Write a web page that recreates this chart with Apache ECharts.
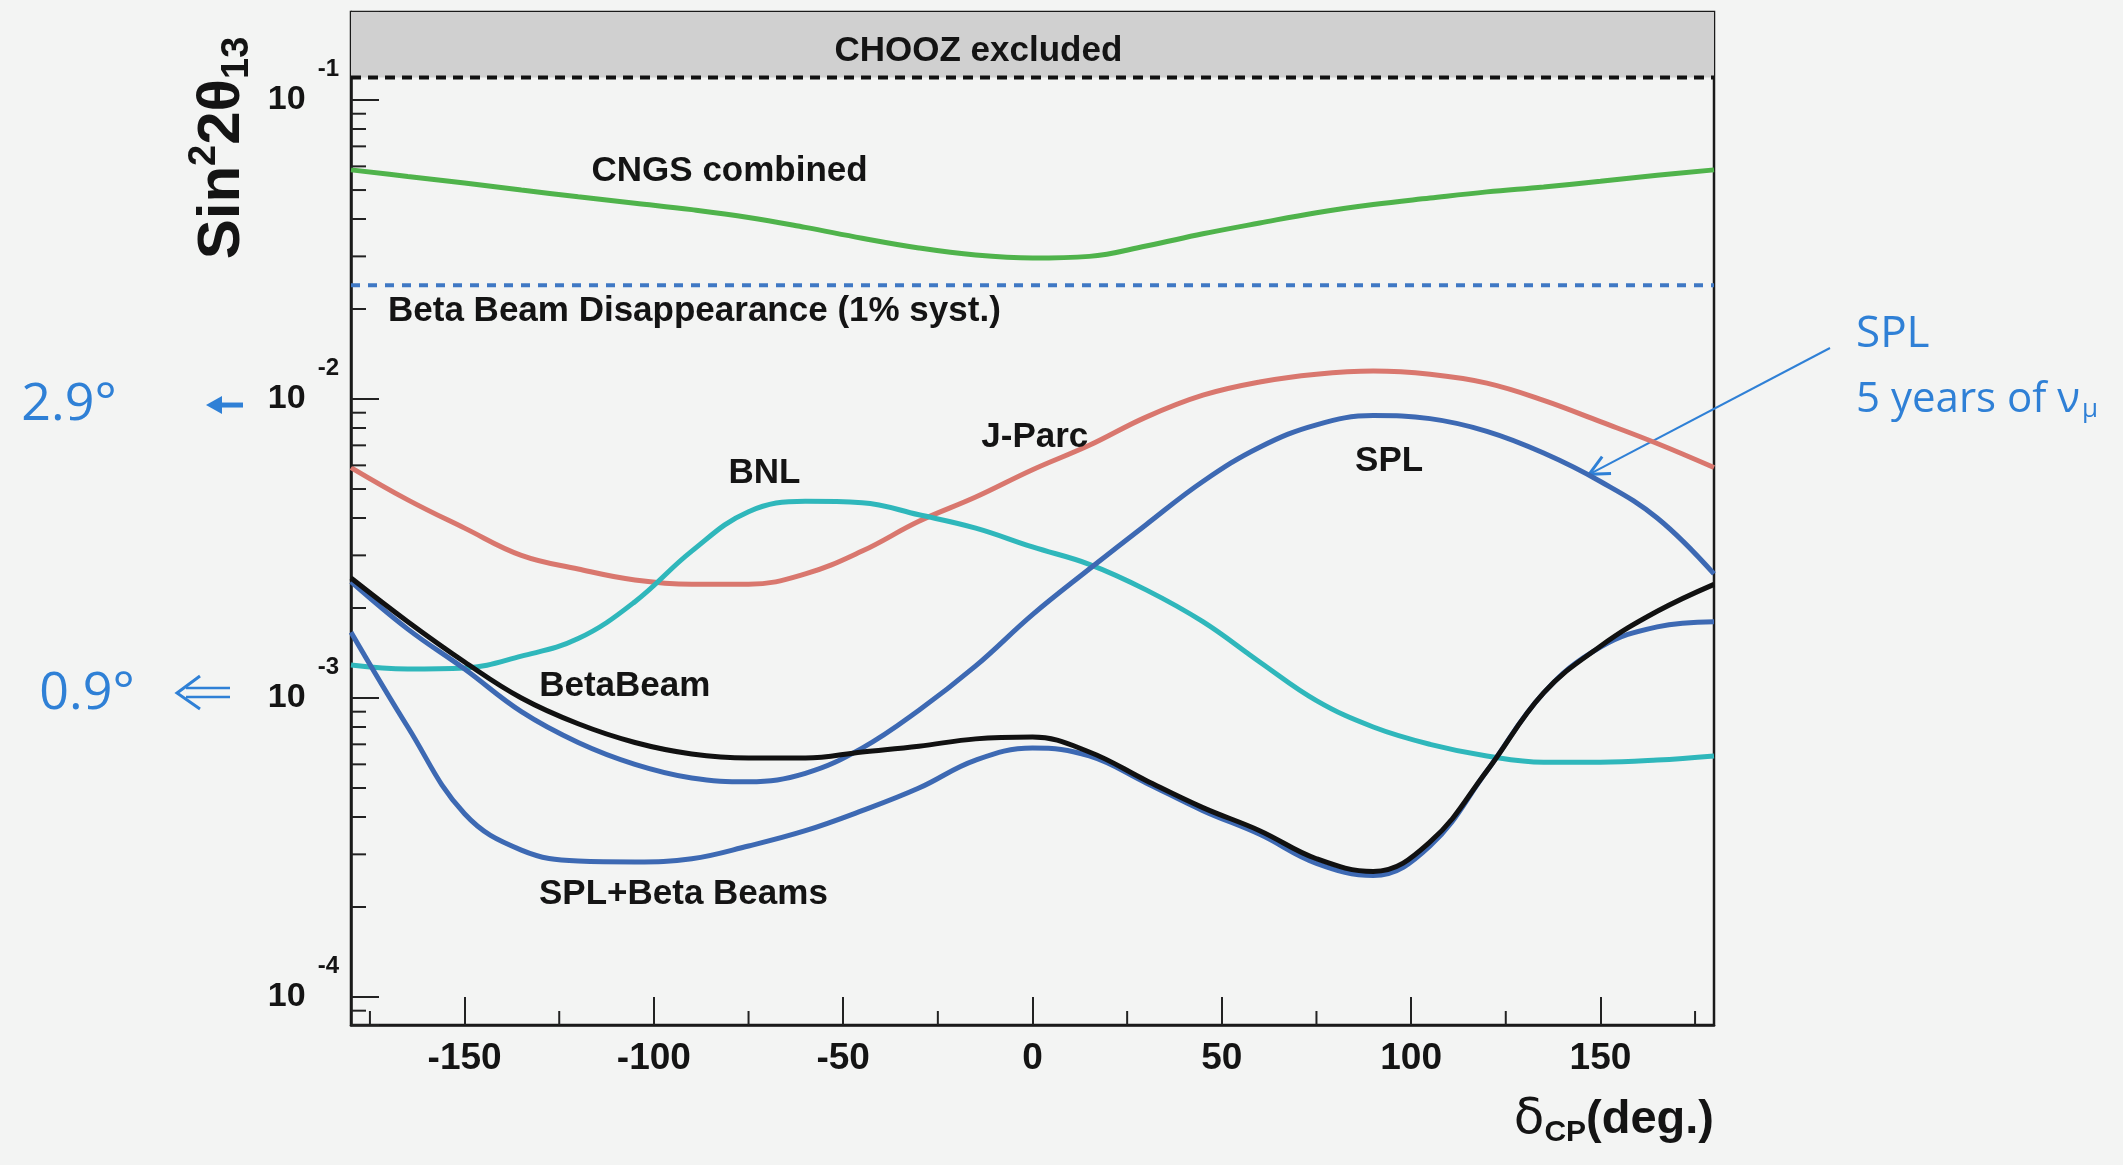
<!DOCTYPE html>
<html>
<head>
<meta charset="utf-8">
<title>Sensitivity to sin²2θ13 versus δCP</title>
<script src="https://cdn.jsdelivr.net/npm/echarts@6/dist/echarts.min.js"></script>
<style>
  html, body { margin: 0; padding: 0; background: #f3f4f3; }
  #chart { width: 2123px; height: 1165px; }
</style>
</head>
<body>
<div id="chart"></div>
<script>
// ---- data: sin^2(2θ13) sensitivity as a function of δCP (degrees) ----
const deltaCP = [-180, -165, -150, -135, -120, -105, -90, -75, -60, -45, -30, -15, 0,
                 15, 30, 45, 60, 75, 90, 105, 120, 135, 150, 165, 180];

const cngsCombined = [0.0584, 0.0555, 0.0528, 0.0500, 0.0475, 0.0452, 0.0430, 0.0405, 0.0375,
                      0.0345, 0.0320, 0.0303, 0.0296, 0.0300, 0.0325, 0.0357, 0.0388, 0.0420,
                      0.0447, 0.0470, 0.0493, 0.0512, 0.0535, 0.0560, 0.0584];

const jParc = [0.0059, 0.0046, 0.0037, 0.0030, 0.0027, 0.00248, 0.0024, 0.0024, 0.0026,
               0.0031, 0.0039, 0.0047, 0.0058, 0.0070, 0.0087, 0.0103, 0.0114, 0.0121,
               0.0124, 0.0121, 0.0113, 0.0099, 0.0084, 0.0071, 0.0059];

const bnl = [0.00129, 0.00125, 0.00126, 0.00138, 0.00158, 0.0021, 0.0031, 0.0042, 0.00455,
             0.0045, 0.0041, 0.0037, 0.0032, 0.0028, 0.0023, 0.0018, 0.00132, 0.00098,
             0.00080, 0.00070, 0.00064, 0.00061, 0.00061, 0.00062, 0.00064];

const spl = [0.00245, 0.0017, 0.00125, 0.00090, 0.00071, 0.00060, 0.00054, 0.000525, 0.00056,
             0.00068, 0.00091, 0.00128, 0.0019, 0.0027, 0.0038, 0.0053, 0.0069, 0.0082,
             0.0088, 0.0086, 0.0078, 0.0066, 0.0053, 0.0040, 0.0026];

const betaBeam = [0.00252, 0.0018, 0.00132, 0.00100, 0.00082, 0.00071, 0.00065, 0.00063, 0.00063,
                  0.00066, 0.00069, 0.00073, 0.00074, 0.00066, 0.00053, 0.00043, 0.00036, 0.00029,
                  0.000263, 0.00033, 0.00057, 0.00104, 0.00149, 0.00195, 0.00240];

const splBetaBeams = [0.00166, 0.00080, 0.00041, 0.00031, 0.000285, 0.000283, 0.00029, 0.00032, 0.00036,
                      0.00042, 0.00050, 0.00062, 0.00068, 0.00064, 0.00052, 0.00042, 0.00035, 0.00028,
                      0.000255, 0.00032, 0.00057, 0.00104, 0.00148, 0.00173, 0.00180];

const choozLimit = 0.119;          // excluded region above this value
const betaDisappearance = 0.024;   // beta beam disappearance, 1% systematics

// ---- axes ----
const xRange = [-180, 180];
const yRange = [8.06e-5, 0.197];
const xMajorTicks = [-150, -100, -50, 0, 50, 100, 150];
const xMinorTicks = [-175, -125, -75, -25, 25, 75, 125, 175];
const yMinorTicks = [9e-5,
  2e-4, 3e-4, 4e-4, 5e-4, 6e-4, 7e-4, 8e-4, 9e-4,
  2e-3, 3e-3, 4e-3, 5e-3, 6e-3, 7e-3, 8e-3, 9e-3,
  2e-2, 3e-2, 4e-2, 5e-2, 6e-2, 7e-2, 8e-2, 9e-2];

// ---- text placed in data space ----
const curveLabelText = ['CHOOZ excluded', 'CNGS combined', 'Beta Beam Disappearance (1% syst.)',
                        'BNL', 'J-Parc', 'SPL', 'BetaBeam', 'SPL+Beta Beams'];
const curveLabelAt = [[-14.3, 0.146], [-80, 0.0577], [-89.3, 0.0196],
                      [-70.8, 0.00566], [0.6, 0.00747], [94.2, 0.00621], [-107.7, 0.00109], [-92.2, 0.000221]];

// point on the SPL curve that the handwritten note refers to
const noteArrowTip = [147, 0.0056];

const FONT = 'Liberation Sans';
const INK = '#141414';
const HAND = '#2f80d6';

function pairs(ys) { return deltaCP.map((d, i) => [d, ys[i]]); }

function curve(name, ys, color) {
  return {
    name, type: 'line', data: pairs(ys), smooth: 0.4, symbol: 'none',
    lineStyle: { color, width: 5 }, silent: true, z: 5
  };
}

const chart = echarts.init(document.getElementById('chart'), null, { renderer: 'canvas' });

const option = {
  backgroundColor: '#f3f4f3',
  animation: false,
  grid: { left: 351, right: 409, top: 12, bottom: 140, show: true,
          borderColor: '#1a1a1a', borderWidth: 2.5, backgroundColor: 'transparent' },
  xAxis: {
    type: 'value', min: xRange[0], max: xRange[1],
    axisLine: { show: true, onZero: false, lineStyle: { color: '#1a1a1a', width: 2.5 } },
    axisTick: { show: true, inside: true, length: 28, customValues: xMajorTicks,
                lineStyle: { color: '#222', width: 2 } },
    axisLabel: { customValues: xMajorTicks, margin: 15, color: INK, fontSize: 37,
                 fontWeight: 'bold', fontFamily: FONT },
    splitLine: { show: false }
  },
  yAxis: {
    type: 'log', logBase: 10, min: yRange[0], max: yRange[1],
    axisLine: { show: true, onZero: false, lineStyle: { color: '#1a1a1a', width: 2.5 } },
    axisTick: { show: true, inside: true, length: 28, lineStyle: { color: '#222', width: 2 } },
    axisLabel: {
      margin: 12,
      formatter: function (v) {
        const e = Math.log10(v), r = Math.round(e);
        if (Math.abs(e - r) > 1e-6) return '';
        return '{b|10}{e|' + r + '}';
      },
      rich: {
        b: { fontSize: 34, fontWeight: 'bold', fontFamily: FONT, color: INK },
        e: { fontSize: 24, fontWeight: 'bold', fontFamily: FONT, color: INK, padding: [0, 0, 62, 12] }
      }
    },
    splitLine: { show: false },
    minorTick: { show: false }
  },
  series: [
    {
      name: 'CHOOZ', type: 'line', data: [[xRange[0], choozLimit], [xRange[1], choozLimit]],
      symbol: 'none', silent: true, z: 4,
      lineStyle: { color: '#111', width: 4, type: [10, 7] },
      markArea: {
        silent: true, itemStyle: { color: '#d0d0d0' },
        data: [[{ yAxis: choozLimit }, { yAxis: yRange[1] }]]
      }
    },
    {
      name: 'Beta Beam Disappearance', type: 'line',
      data: [[xRange[0], betaDisappearance], [xRange[1], betaDisappearance]],
      symbol: 'none', silent: true, z: 4,
      lineStyle: { color: '#3f78c4', width: 4, type: [9, 8] }
    },
    curve('CNGS combined', cngsCombined, '#4fb34b'),
    curve('J-Parc', jParc, '#d9776e'),
    curve('BNL', bnl, '#2fb7bb'),
    curve('SPL', spl, '#3d69b3'),
    curve('SPL+Beta Beams', splBetaBeams, '#3d69b3'),
    curve('BetaBeam', betaBeam, '#111111'),
    {
      name: 'curve labels', type: 'custom', silent: true, z: 8,
      data: curveLabelAt.map((p, i) => [p[0], p[1], i]),
      renderItem: function (params, api) {
        const p = api.coord([api.value(0), api.value(1)]);
        return {
          type: 'text', x: p[0], y: p[1],
          style: { text: curveLabelText[api.value(2)], fill: INK, fontSize: 35,
                   fontWeight: 'bold', fontFamily: FONT, align: 'center', verticalAlign: 'middle' }
        };
      }
    },
    {
      name: 'y minor ticks', type: 'custom', silent: true, z: 9,
      data: yMinorTicks.map(v => [xRange[0], v]),
      renderItem: function (params, api) {
        const p = api.coord([api.value(0), api.value(1)]);
        return { type: 'line', shape: { x1: p[0], y1: p[1], x2: p[0] + 15, y2: p[1] },
                 style: { stroke: '#222', lineWidth: 2 } };
      }
    },
    {
      name: 'x minor ticks', type: 'custom', silent: true, z: 9,
      data: xMinorTicks.map(d => [d, yRange[0]]),
      renderItem: function (params, api) {
        const p = api.coord([api.value(0), api.value(1)]);
        return { type: 'line', shape: { x1: p[0], y1: p[1], x2: p[0], y2: p[1] - 14 },
                 style: { stroke: '#222', lineWidth: 2 } };
      }
    }
  ],
  graphic: [
    {
      id: 'ytitle', type: 'text', x: 222, y: 148, rotation: Math.PI / 2,
      style: {
        text: '{m|Sin}{p|2}{m|2θ}{q|13}', align: 'center', verticalAlign: 'middle',
        rich: {
          m: { fontSize: 60, fontWeight: 'bold', fontFamily: FONT, fill: INK },
          p: { fontSize: 38, fontWeight: 'bold', fontFamily: FONT, fill: INK, padding: [0, 0, 34, 0] },
          q: { fontSize: 38, fontWeight: 'bold', fontFamily: FONT, fill: INK, padding: [32, 0, 0, 0] }
        }
      }
    },
    {
      id: 'xtitle', type: 'text', x: 1714, y: 1120,
      style: {
        text: '{d|δ}{c|CP}{t|(deg.)}', align: 'right', verticalAlign: 'middle',
        rich: {
          d: { fontSize: 50, fontFamily: 'DejaVu Sans', fill: INK },
          c: { fontSize: 30, fontWeight: 'bold', fontFamily: FONT, fill: INK, padding: [26, 0, 0, 0] },
          t: { fontSize: 47, fontWeight: 'bold', fontFamily: FONT, fill: INK }
        }
      }
    }
  ]
};

chart.setOption(option);

// handwritten notes, anchored to the axis scale
const y2 = chart.convertToPixel({ yAxisIndex: 0 }, 1e-2);
const y3 = chart.convertToPixel({ yAxisIndex: 0 }, 1e-3);
const tip = chart.convertToPixel({ gridIndex: 0 }, noteArrowTip);
const tail = [1830, 348];
const ang = Math.atan2(tip[1] - tail[1], tip[0] - tail[0]);
const head = (len, spread) => [
  [tip[0] - len * Math.cos(ang - spread), tip[1] - len * Math.sin(ang - spread)],
  [tip[0], tip[1]],
  [tip[0] - len * Math.cos(ang + spread), tip[1] - len * Math.sin(ang + spread)]
];
const handFont = { fontFamily: 'Open Sans', fill: HAND };

chart.setOption({
  graphic: [
    { id: 'n29', type: 'text', x: 69, y: y2 + 6,
      style: Object.assign({ text: '2.9°', fontSize: 52, align: 'center', verticalAlign: 'middle' }, handFont) },
    { id: 'a29', type: 'line', shape: { x1: 243, y1: y2 + 6, x2: 214, y2: y2 + 6 },
      style: { stroke: HAND, lineWidth: 5 } },
    { id: 'h29', type: 'polygon', shape: { points: [[206, y2 + 6], [222, y2 - 3], [222, y2 + 15]] },
      style: { fill: HAND } },
    { id: 'n09', type: 'text', x: 87, y: y3 - 4,
      style: Object.assign({ text: '0.9°', fontSize: 52, align: 'center', verticalAlign: 'middle' }, handFont) },
    { id: 'a09a', type: 'line', shape: { x1: 230, y1: y3 - 10, x2: 186, y2: y3 - 10 },
      style: { stroke: HAND, lineWidth: 2.5 } },
    { id: 'a09b', type: 'line', shape: { x1: 230, y1: y3 - 1, x2: 186, y2: y3 - 1 },
      style: { stroke: HAND, lineWidth: 2.5 } },
    { id: 'h09', type: 'polyline', shape: { points: [[200, y3 - 22], [177, y3 - 5], [200, y3 + 11]] },
      style: { stroke: HAND, lineWidth: 3, fill: null } },
    { id: 'nSPL', type: 'text', x: 1856, y: 334,
      style: Object.assign({ text: 'SPL', fontSize: 44, align: 'left', verticalAlign: 'middle' }, handFont) },
    { id: 'nYears', type: 'text', x: 1856, y: 400,
      style: {
        text: '{a|5 years of ν}{s|μ}', align: 'left', verticalAlign: 'middle',
        rich: {
          a: { fontSize: 42, fontFamily: 'Open Sans', fill: HAND },
          s: { fontSize: 26, fontFamily: 'Open Sans', fill: HAND, padding: [20, 0, 0, 2] }
        }
      } },
    { id: 'nLine', type: 'line', shape: { x1: tail[0], y1: tail[1], x2: tip[0], y2: tip[1] },
      style: { stroke: HAND, lineWidth: 2 } },
    { id: 'nHead', type: 'polyline', shape: { points: head(22, 0.45) },
      style: { stroke: HAND, lineWidth: 3, fill: null } }
  ]
});
</script>
</body>
</html>
